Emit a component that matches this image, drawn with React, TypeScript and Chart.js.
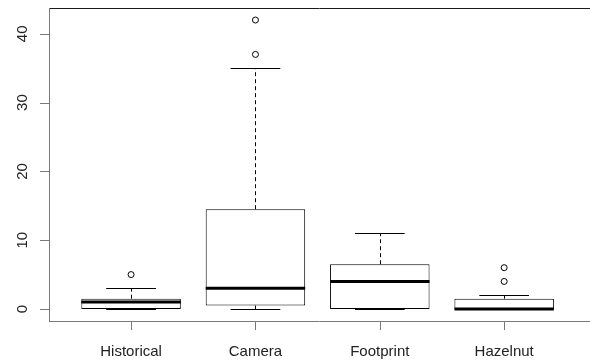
import React, { useEffect, useRef } from "react";
import { Chart, registerables } from "chart.js";

Chart.register(...registerables);

const categories = ["Historical", "Camera", "Footprint", "Hazelnut"];
const q1 = [0, 0.5, 0, 0];
const medians = [1, 3, 4, 0];
const q3 = [1.5, 14.5, 6.5, 1.5];
const whiskerLow = [0, 0, 0, 0];
const whiskerHigh = [3, 35, 11, 2];
const outliers: number[][] = [[5], [37, 42], [], [4, 6]];
const yTicks = [0, 10, 20, 30, 40];

const boxPlugin = {
  id: "rbox",
  afterDatasetsDraw(chart: any) {
    const ctx = chart.ctx;
    const xs = chart.scales.x;
    const ys = chart.scales.y;
    const boxW = xs.getPixelForValue(1.8) - xs.getPixelForValue(1);
    const capW = xs.getPixelForValue(1.4) - xs.getPixelForValue(1);
    ctx.save();
    ctx.strokeStyle = "#000";
    categories.forEach((_, i) => {
      const cx = xs.getPixelForValue(i + 1);
      const yHi = ys.getPixelForValue(whiskerHigh[i]);
      const yLo = ys.getPixelForValue(whiskerLow[i]);
      const yQ3 = ys.getPixelForValue(q3[i]);
      const yQ1 = ys.getPixelForValue(q1[i]);
      const yMed = ys.getPixelForValue(medians[i]);
      ctx.lineWidth = 1;
      ctx.setLineDash([4, 3]);
      ctx.beginPath();
      ctx.moveTo(Math.round(cx) + 0.5, yQ3);
      ctx.lineTo(Math.round(cx) + 0.5, yHi);
      ctx.moveTo(Math.round(cx) + 0.5, yQ1);
      ctx.lineTo(Math.round(cx) + 0.5, yLo);
      ctx.stroke();
      ctx.setLineDash([]);
      ctx.beginPath();
      ctx.moveTo(cx - capW / 2, Math.round(yHi) + 0.5);
      ctx.lineTo(cx + capW / 2, Math.round(yHi) + 0.5);
      ctx.moveTo(cx - capW / 2, Math.round(yLo) + 0.5);
      ctx.lineTo(cx + capW / 2, Math.round(yLo) + 0.5);
      ctx.stroke();
      ctx.lineWidth = 3;
      ctx.beginPath();
      ctx.moveTo(cx - boxW / 2, yMed);
      ctx.lineTo(cx + boxW / 2, yMed);
      ctx.stroke();
    });
    ctx.restore();
  },
  afterDraw(chart: any) {
    const ctx = chart.ctx;
    const xs = chart.scales.x;
    const ys = chart.scales.y;
    const a = chart.chartArea;
    ctx.save();
    ctx.lineWidth = 1;
    ctx.strokeStyle = "#1a1a1a";
    ctx.beginPath();
    ctx.moveTo(a.left, a.top + 0.5);
    ctx.lineTo(chart.width, a.top + 0.5);
    ctx.stroke();
    ctx.strokeStyle = "#7a7a7a";
    ctx.beginPath();
    ctx.moveTo(a.left + 0.5, a.top);
    ctx.lineTo(a.left + 0.5, a.bottom + 1);
    ctx.moveTo(a.left, a.bottom + 0.5);
    ctx.lineTo(chart.width, a.bottom + 0.5);
    ctx.stroke();
    ctx.beginPath();
    yTicks.forEach((v) => {
      const y = Math.round(ys.getPixelForValue(v)) + 0.5;
      ctx.moveTo(a.left - 9, y);
      ctx.lineTo(a.left, y);
    });
    categories.forEach((_, i) => {
      const x = Math.round(xs.getPixelForValue(i + 1)) + 0.5;
      ctx.moveTo(x, a.bottom);
      ctx.lineTo(x, a.bottom + 9);
    });
    ctx.stroke();
    ctx.fillStyle = "#222222";
    ctx.font = "15px 'Liberation Sans', Arial, sans-serif";
    ctx.textAlign = "center";
    ctx.textBaseline = "alphabetic";
    categories.forEach((c, i) => {
      ctx.fillText(c, xs.getPixelForValue(i + 1), 356);
    });
    yTicks.forEach((v) => {
      const y = ys.getPixelForValue(v);
      ctx.save();
      ctx.translate(27, y);
      ctx.rotate(-Math.PI / 2);
      ctx.fillText(String(v), 0, 0);
      ctx.restore();
    });
    ctx.restore();
  },
};

export default function App() {
  const ref = useRef<HTMLCanvasElement>(null);
  useEffect(() => {
    if (!ref.current) return;
    const outlierPts: { x: number; y: number }[] = [];
    outliers.forEach((arr, i) => arr.forEach((v) => outlierPts.push({ x: i + 1, y: v })));
    const chart = new Chart(ref.current, {
      type: "bar",
      data: {
        datasets: [
          {
            type: "bar",
            data: categories.map((_, i) => ({ x: i + 1, y: [q1[i], q3[i]] })) as any,
            backgroundColor: "#ffffff",
            borderColor: "#000000",
            borderWidth: 1,
            borderSkipped: false,
            barPercentage: 0.8,
            categoryPercentage: 1,
          },
          {
            type: "scatter",
            data: outlierPts as any,
            pointStyle: "circle",
            pointRadius: 3,
            pointBorderWidth: 1,
            pointBorderColor: "#000000",
            pointBackgroundColor: "#ffffff",
          } as any,
        ],
      },
      options: {
        animation: false,
        responsive: false,
        devicePixelRatio: 1,
        layout: { padding: { top: 8, left: 0, right: 0, bottom: 0 } },
        plugins: { legend: { display: false }, tooltip: { enabled: false } },
        scales: {
          x: {
            type: "linear",
            offset: false,
            min: 0.34,
            max: 4.65,
            grid: { display: false, offset: false },
            border: { display: false },
            ticks: { display: false, includeBounds: false, stepSize: 1 },
            afterFit: (s: any) => {
              s.height = 39;
            },
          },
          y: {
            type: "linear",
            min: -1.75,
            max: 43.75,
            grid: { display: false },
            border: { display: false },
            ticks: { display: false, includeBounds: false, stepSize: 10 },
            afterFit: (s: any) => {
              s.width = 49;
            },
          },
        },
      },
      plugins: [boxPlugin],
    });
    return () => chart.destroy();
  }, []);
  return (
    <div style={{ position: "fixed", left: 0, top: 0, width: 590, height: 360, background: "#fff" }}>
      <canvas ref={ref} width={590} height={360} />
    </div>
  );
}
